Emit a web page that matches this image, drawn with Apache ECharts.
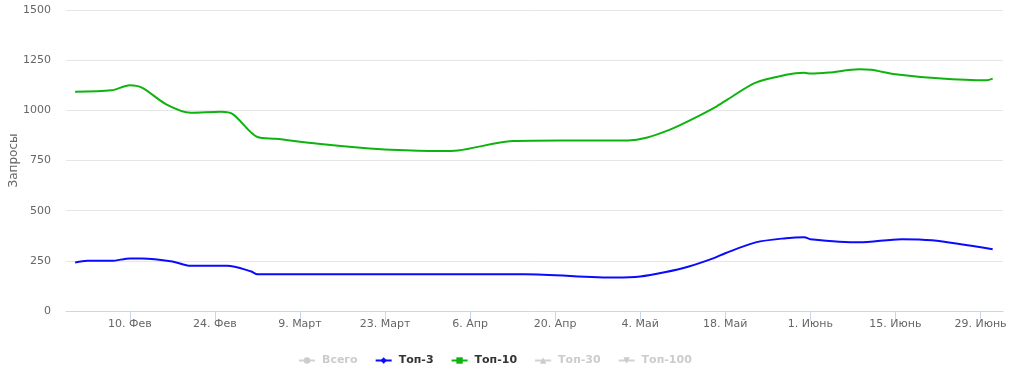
<!DOCTYPE html>
<html>
<head>
<meta charset="utf-8">
<script src="https://cdn.jsdelivr.net/npm/echarts@6/dist/echarts.min.js"></script>
<style>
html,body{margin:0;padding:0;background:#fff;}
#chart{width:1024px;height:385px;}
</style>
</head>
<body>
<div id="chart"></div>
<script>
var tickDates = ['2020-02-10','2020-02-24','2020-03-09','2020-03-23','2020-04-06','2020-04-20','2020-05-04','2020-05-18','2020-06-01','2020-06-15','2020-06-29'];
var tickLabels = ['10. Фев','24. Фев','9. Март','23. Март','6. Апр','20. Апр','4. Май','18. Май','1. Июнь','15. Июнь','29. Июнь'];

var top3Dates = ['2020-02-01','2020-02-03','2020-02-07','2020-02-10','2020-02-12','2020-02-17','2020-02-20','2020-02-26','2020-03-01','2020-03-02','2020-03-24','2020-04-15','2020-04-30','2020-05-04','2020-05-08','2020-05-12','2020-05-16','2020-05-18','2020-05-23','2020-05-28','2020-05-31','2020-06-01','2020-06-09','2020-06-16','2020-06-21','2020-07-01'];
var top3Values = [242,250,250,262,262,247,225,225,197,183,183,183,167,172,193,222,262,288,342,363,368,358,342,358,352,308];

var top10Dates = ['2020-02-01','2020-02-07','2020-02-10','2020-02-12','2020-02-16','2020-02-20','2020-02-25','2020-02-27','2020-03-02','2020-03-05','2020-03-12','2020-03-19','2020-03-24','2020-04-01','2020-04-04','2020-04-13','2020-04-21','2020-05-02','2020-05-05','2020-05-09','2020-05-12','2020-05-16','2020-05-18','2020-05-23','2020-05-28','2020-05-31','2020-06-01','2020-06-04','2020-06-09','2020-06-11','2020-06-15','2020-06-22','2020-06-30','2020-07-01'];
var top10Values = [1093,1100,1125,1113,1030,988,993,980,867,858,833,813,803,797,800,847,850,850,863,905,947,1010,1047,1138,1177,1187,1183,1188,1205,1202,1180,1160,1150,1158];

var legendNames = ['Всего','Топ-3','Топ-10','Топ-30','Топ-100'];

var DAY = 86400000;
function ts(s){var p=s.split('-');return Date.UTC(+p[0],+p[1]-1,+p[2]);}
function pairs(d,v){return d.map(function(x,i){return [ts(x),v[i]];});}
var tickTs = tickDates.map(ts);
function labelFor(v){
  for (var i=0;i<tickTs.length;i++){ if (Math.abs(tickTs[i]-v) < DAY/2) return tickLabels[i]; }
  return '';
}

var chart = echarts.init(document.getElementById('chart'), null, {renderer:'canvas'});
var font = 'DejaVu Sans, Verdana, sans-serif';
chart.setOption({
  animation:false,
  textStyle:{fontFamily:font},
  grid:{left:66,right:21,top:10,bottom:74,containLabel:false,outerBoundsMode:'none'},
  legend:{
    left:298, top:355, padding:0, itemWidth:16, itemHeight:8, itemGap:17,
    data:legendNames,
    selected:{'Всего':false,'Топ-3':true,'Топ-10':true,'Топ-30':false,'Топ-100':false},
    textStyle:{fontFamily:font,fontSize:11,fontWeight:'bold',color:'#333',padding:[0,0,0,2]},
    inactiveColor:'#cccccc'
  },
  xAxis:{
    type:'value',
    min: ts('2020-02-10') - 10.5*DAY,
    max: ts('2020-02-10') + 143.7*DAY,
    axisLine:{show:true,lineStyle:{color:'#ccd6eb',width:1}},
    axisTick:{show:true,length:10,customValues:tickTs,lineStyle:{color:'#ccd6eb'}},
    axisLabel:{customValues:tickTs,color:'#666',fontSize:11,fontFamily:font,margin:8,
      showMinLabel:true,showMaxLabel:true,formatter:labelFor},
    splitLine:{show:false}
  },
  yAxis:{
    type:'value', min:0, max:1500, interval:250,
    name:'Запросы', nameLocation:'middle', nameGap:46, nameMoveOverlap:false,
    nameTextStyle:{color:'#666',fontSize:12,fontFamily:font},
    axisLine:{show:false}, axisTick:{show:false},
    axisLabel:{color:'#666',fontSize:11,fontFamily:font,margin:15,formatter:function(v){return String(v);}},
    splitLine:{lineStyle:{color:'#e6e6e6',width:1}}
  },
  series:[
    {name:'Всего',type:'line',data:[],symbol:'circle',itemStyle:{color:'#999'}},
    {name:'Топ-3',type:'line',data:pairs(top3Dates,top3Values),smooth:0.3,showSymbol:false,symbol:'diamond',symbolSize:8,
      lineStyle:{color:'#0a0aff',width:2},itemStyle:{color:'#0a0aff'}},
    {name:'Топ-10',type:'line',data:pairs(top10Dates,top10Values),smooth:0.3,showSymbol:false,symbol:'rect',symbolSize:8,
      lineStyle:{color:'#0fb30f',width:2},itemStyle:{color:'#0fb30f'}},
    {name:'Топ-30',type:'line',data:[],symbol:'triangle',itemStyle:{color:'#999'}},
    {name:'Топ-100',type:'line',data:[],symbol:'path://M0,0 L10,0 L5,10 Z',itemStyle:{color:'#999'}}
  ]
});
</script>
</body>
</html>
